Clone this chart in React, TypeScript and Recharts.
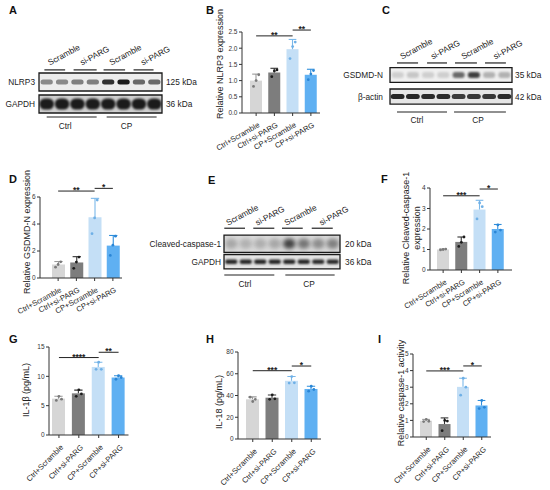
import React from 'react';
import {
  ComposedChart, ScatterChart, Bar, Scatter, XAxis, YAxis,
  ReferenceLine, ReferenceArea, ReferenceDot,
} from 'recharts';

const groups = ['Ctrl+Scramble', 'Ctrl+si-PARG', 'CP+Scramble', 'CP+si-PARG'];
const laneGroups = ['Scramble', 'si-PARG', 'Scramble', 'si-PARG'];
const conditions = ['Ctrl', 'CP'];

const barFill = ['#d6d6d6', '#7d7d7d', '#c4dff6', '#5fb0f2'];
const errStroke = ['#9a9a9a', '#333333', '#7ab8ea', '#2f8fdc'];
const dotFill = ['#7a7a7a', '#1c1c1c', '#6fb0e6', '#2a86d6'];

// B - NLRP3
const nlrp3Mean = [1.0, 1.25, 1.97, 1.18];
const nlrp3Sd = [0.2, 0.13, 0.3, 0.17];
const nlrp3Reps = [[0.82, 1.0, 1.18], [1.12, 1.3, 1.33], [1.68, 2.05, 2.19], [1.03, 1.2, 1.31]];
// D - GSDMD-N
const gsdmdMean = [1.0, 1.15, 4.5, 2.4];
const gsdmdSd = [0.22, 0.43, 1.4, 0.75];
const gsdmdReps = [[0.8, 1.0, 1.2], [0.72, 1.18, 1.55], [3.28, 4.45, 5.77], [1.67, 2.43, 3.1]];
// F - cleaved caspase-1
const cleavedMean = [1.0, 1.37, 2.95, 2.0];
const cleavedSd = [0.02, 0.24, 0.45, 0.22];
const cleavedReps = [[0.98, 1.0, 1.02], [1.15, 1.35, 1.61], [2.49, 3.27, 3.09], [1.85, 2.2, 1.95]];
// G - IL-1b
const il1bMean = [6.2, 7.1, 11.6, 9.8];
const il1bSd = [0.4, 0.55, 0.8, 0.3];
const il1bReps = [[5.9, 6.6, 6.1], [6.6, 7.7, 7.0], [11.2, 12.4, 11.2], [9.5, 10.1, 9.8]];
// H - IL-18
const il18Mean = [36.5, 38, 53.5, 46];
const il18Sd = [2.2, 2.5, 4.0, 2.5];
const il18Reps = [[38.5, 34.5, 36.5], [36.5, 40.6, 36.9], [51.4, 57.4, 51.7], [44, 48.5, 45.5]];
// I - caspase-1 activity
const casp1Mean = [0.98, 0.78, 3.02, 1.9];
const casp1Sd = [0.08, 0.37, 0.52, 0.3];
const casp1Reps = [[0.93, 1.06, 0.95], [0.38, 1.0, 0.96], [2.52, 3.54, 3.0], [1.71, 2.2, 1.79]];

// blot band intensities (0..1), lanes 1-8
const nlrp3Bands = [0.45, 0.45, 0.5, 0.5, 0.85, 0.95, 0.6, 0.6];
const gapdhBandsA = [0.95, 0.95, 0.95, 0.95, 0.95, 0.95, 0.95, 0.95];
const gsdmdBands = [0.15, 0.18, 0.15, 0.15, 0.6, 0.8, 0.28, 0.28];
const actinBands = [0.9, 0.9, 0.88, 0.88, 0.8, 0.82, 0.82, 0.88];
const cleavedBands = [0.25, 0.2, 0.22, 0.25, 0.75, 0.5, 0.38, 0.45];
const gapdhBandsE = [0.9, 0.9, 0.9, 0.9, 0.9, 0.9, 0.88, 0.88];

const FONT = '"Liberation Sans", Arial, Helvetica, sans-serif';

function makeRows(mean: number[], sd: number[], reps: number[][]) {
  return groups.map((name, i) => ({
    name, mean: mean[i], sd: sd[i], r0: reps[i][0], r1: reps[i][1], r2: reps[i][2],
  }));
}

const MeanBar = (p: any) => {
  const { x, y, width, height, payload } = p;
  const i = groups.indexOf(payload.name);
  const k = payload.mean ? height / payload.mean : 0;
  const top = y - payload.sd * k;
  const cx = x + width / 2;
  const cap = width * 0.32;
  return (
    <g>
      <rect x={x} y={y} width={width} height={height} fill={barFill[i]} />
      <line x1={cx} y1={y} x2={cx} y2={top} stroke={errStroke[i]} strokeWidth={1.1} />
      <line x1={cx - cap} y1={top} x2={cx + cap} y2={top} stroke={errStroke[i]} strokeWidth={1.1} />
    </g>
  );
};

const dotShape = (off: number) => (p: any) => {
  const { cx, cy, payload } = p;
  if (cx == null || cy == null) return <g />;
  const i = groups.indexOf(payload.name);
  return <circle cx={cx + off} cy={cy} r={1.4} fill={dotFill[i]} />;
};

const starLabel = (text: string) => (p: any) => {
  const vb = p.viewBox || {};
  return (
    <text x={vb.x + vb.width / 2} y={vb.y + 2} textAnchor="middle" fontSize={8.5} fontWeight="bold" fill="#222">
      {text}
    </text>
  );
};

type Sig = { from: number; to: number; y: number; text: string };

function BarPanel(props: any) {
  const { box, data, domain, ticks, fmt, ylabel, labelX, labelY, sigs, angle, padL = 0, padR = 0, barSize } = props;
  const cl = box.left - 60;
  const ct = box.top - 40;
  const w = box.right + 20 - cl;
  const h = box.bottom + 72 - ct;
  const AngledTick = (t: any) => (
    <g transform={`translate(${t.x + 2},${t.y + 5})`}>
      <text textAnchor="end" transform={`rotate(${angle})`} dy={4} fontSize={7.6} fill="#222">
        {t.payload.value}
      </text>
    </g>
  );
  const YLabel = () => (
    <g>
      {ylabel.map((s: string, k: number) => {
        const lx = labelX - cl + (k - (ylabel.length - 1) / 2) * 11;
        const ly = labelY - ct;
        return (
          <text key={k} x={lx} y={ly} transform={`rotate(-90, ${lx}, ${ly})`} textAnchor="middle"
            dominantBaseline="central" fontSize={9} fill="#222">{s}</text>
        );
      })}
    </g>
  );
  return (
    <div style={{ position: 'absolute', left: cl, top: ct }}>
      <ComposedChart width={w} height={h} data={data} margin={{ top: 40, right: 20, bottom: 12, left: 30 }}>
        <XAxis dataKey="name" height={60} interval={0} padding={{ left: padL, right: padR }}
          tick={<AngledTick />} tickSize={3} axisLine={{ stroke: '#333' }} tickLine={{ stroke: '#333' }} />
        <YAxis type="number" width={30} domain={domain} ticks={ticks} allowDataOverflow
          tickFormatter={fmt} tickSize={3} tickMargin={1.5} tick={{ fontSize: 6.5, fill: '#333' }}
          axisLine={{ stroke: '#333' }} tickLine={{ stroke: '#333' }} label={() => <YLabel />} />
        <Bar dataKey="mean" barSize={barSize} shape={<MeanBar />} isAnimationActive={false} />
        <Scatter dataKey="r0" shape={dotShape(-2.6)} isAnimationActive={false} />
        <Scatter dataKey="r1" shape={dotShape(0)} isAnimationActive={false} />
        <Scatter dataKey="r2" shape={dotShape(2.6)} isAnimationActive={false} />
        {sigs.map((s: Sig, k: number) => (
          <ReferenceLine key={k} ifOverflow="visible" stroke="#222" strokeWidth={1}
            segment={[{ x: groups[s.from], y: s.y }, { x: groups[s.to], y: s.y }]}
            label={starLabel(s.text)} />
        ))}
      </ComposedChart>
    </div>
  );
}

const bandShape = (w: number, h: number, blur: number) => (p: any) => {
  const { cx, cy, payload } = p;
  if (cx == null || cy == null) return <g />;
  return (
    <rect x={cx - w / 2} y={cy - h / 2} width={w} height={h} rx={h / 2} fill="#111"
      fillOpacity={payload.v} style={{ filter: `blur(${blur}px)` }} />
  );
};

function Blot(props: any) {
  const {
    left, top, width, height, x0, x1, y0, pitch, rows,
    segY, segs, labStart, labY, condY, condSegs, condX, condTextY, nameEnd, kdaStart,
  } = props;
  const laneW = (x1 - x0) / 8;
  const dom = [(top - y0) / pitch, (top + height - y0) / pitch];
  const txt = (s: string, anchor: string, rot = 0) => (p: any) => (
    <text x={p.cx} y={p.cy} textAnchor={anchor} fontSize={8.3} fill="#222"
      transform={rot ? `rotate(${rot}, ${p.cx}, ${p.cy})` : undefined}>{s}</text>
  );
  return (
    <div style={{ position: 'absolute', left, top }}>
      <ScatterChart width={width} height={height}
        margin={{ top: 0, bottom: 0, left: x0 - left, right: left + width - x1 }}>
        <XAxis type="number" dataKey="lane" domain={[0.5, 8.5]} hide allowDataOverflow />
        <YAxis type="number" dataKey="row" domain={dom} reversed hide width={0} allowDataOverflow />
        {rows.map((r: any, ri: number) => (
          <ReferenceArea key={'bg' + ri} x1={0.5} x2={8.5} y1={ri - r.half} y2={ri + r.half}
            fill={r.bg} fillOpacity={1} stroke="none" ifOverflow="visible" />
        ))}
        {rows.map((r: any, ri: number) => (
          <Scatter key={'s' + ri} data={r.bands.map((v: number, i: number) => ({ lane: i + 1, row: ri, v }))}
            shape={bandShape(laneW * r.bandW, r.bandH, r.blur)} isAnimationActive={false} />
        ))}
        {rows.map((r: any, ri: number) => (
          <ReferenceArea key={'bd' + ri} x1={0.5} x2={8.5} y1={ri - r.half} y2={ri + r.half}
            fill="none" stroke="#1a1a1a" strokeWidth={1.3} ifOverflow="visible" />
        ))}
        {rows.map((r: any, ri: number) => (
          <ReferenceDot key={'n' + ri} x={nameEnd} y={ri + 3.2 / pitch} r={1} ifOverflow="visible"
            shape={txt(r.label, 'end')} />
        ))}
        {rows.map((r: any, ri: number) => (
          <ReferenceDot key={'k' + ri} x={kdaStart} y={ri + 3.2 / pitch} r={1} ifOverflow="visible"
            shape={txt(r.kda, 'start')} />
        ))}
        {segs.map((s: number[], k: number) => (
          <ReferenceLine key={'g' + k} ifOverflow="visible" stroke="#222" strokeWidth={1.2}
            segment={[{ x: s[0], y: segY }, { x: s[1], y: segY }]} />
        ))}
        {laneGroups.map((g, k) => (
          <ReferenceDot key={'l' + k} x={labStart[k]} y={labY} r={1} ifOverflow="visible"
            shape={txt(g, 'start', -28)} />
        ))}
        {condSegs.map((s: number[], k: number) => (
          <ReferenceLine key={'c' + k} ifOverflow="visible" stroke="#222" strokeWidth={1.2}
            segment={[{ x: s[0], y: condY }, { x: s[1], y: condY }]} />
        ))}
        {conditions.map((c, k) => (
          <ReferenceDot key={'ct' + k} x={condX[k]} y={condTextY} r={1} ifOverflow="visible"
            shape={txt(c, 'middle')} />
        ))}
      </ScatterChart>
    </div>
  );
}

const Letter = ({ x, y, t }: { x: number; y: number; t: string }) => (
  <div style={{ position: 'absolute', left: x, top: y - 11, fontSize: 11, fontWeight: 'bold', lineHeight: '12px', color: '#111' }}>{t}</div>
);

export default function App() {
  const f1 = (v: number) => v.toFixed(1);
  return (
    <div style={{ position: 'absolute', left: 0, top: 0, width: 550, height: 490, background: '#fff', overflow: 'hidden', fontFamily: FONT }}>
      <Letter x={9} y={15} t="A" />
      <Letter x={206} y={15} t="B" />
      <Letter x={382} y={15} t="C" />
      <Letter x={9} y={184} t="D" />
      <Letter x={208} y={185} t="E" />
      <Letter x={381} y={184} t="F" />
      <Letter x={9} y={344} t="G" />
      <Letter x={206} y={344} t="H" />
      <Letter x={378} y={344} t="I" />

      <Blot left={0} top={30} width={200} height={110} x0={39} x1={162} y0={82} pitch={22}
        rows={[
          { label: 'NLRP3', kda: '125 kDa', bands: nlrp3Bands, bg: '#ececec', half: 0.41, bandH: 5, bandW: 0.8, blur: 0.7 },
          { label: 'GAPDH', kda: '36 kDa', bands: gapdhBandsA, bg: '#cfcfcf', half: 0.41, bandH: 11, bandW: 0.95, blur: 1.2 },
        ]}
        segY={-0.55} segs={[[0.85, 2.2], [2.75, 4.25], [4.7, 6.1], [6.65, 7.95]]}
        labStart={[1.2, 3.3, 5.2, 7.25]} labY={-0.75}
        condY={1.59} condSegs={[[1.0, 4.25], [4.9, 8.15]]} condX={[2.2, 6.2]} condTextY={2.14}
        nameEnd={0.24} kdaStart={8.76} />

      <Blot left={300} top={30} width={250} height={110} x0={390} x1={512} y0={75} pitch={21.5}
        rows={[
          { label: 'GSDMD-N', kda: '35 kDa', bands: gsdmdBands, bg: '#f0f0f0', half: 0.34, bandH: 6, bandW: 0.8, blur: 1 },
          { label: 'β-actin', kda: '42 kDa', bands: actinBands, bg: '#e6e6e6', half: 0.35, bandH: 5, bandW: 0.9, blur: 0.7 },
        ]}
        segY={-0.56} segs={[[0.96, 2.34], [2.93, 4.24], [4.76, 6.2], [6.73, 8.1]]}
        labStart={[1.29, 3.3, 5.3, 7.4]} labY={-0.72}
        condY={1.72} condSegs={[[0.96, 4.24], [4.7, 8.1]]} condX={[2.27, 6.27]} condTextY={2.23}
        nameEnd={0.04} kdaStart={8.7} />

      <Blot left={120} top={200} width={260} height={100} x0={224} x1={340} y0={243.7} pitch={18}
        rows={[
          { label: 'Cleaved-caspase-1', kda: '20 kDa', bands: cleavedBands, bg: '#dadada', half: 0.48, bandH: 10, bandW: 0.85, blur: 2 },
          { label: 'GAPDH', kda: '36 kDa', bands: gapdhBandsE, bg: '#e4e4e4', half: 0.4, bandH: 4.5, bandW: 0.85, blur: 0.8 },
        ]}
        segY={-0.86} segs={[[0.52, 1.95], [2.52, 3.97], [4.5, 5.93], [6.55, 8.0]]}
        labStart={[0.78, 2.8, 4.8, 7.2]} labY={-1.0}
        condY={1.74} condSegs={[[0.52, 3.97], [4.73, 8.13]]} condX={[1.95, 6.36]} condTextY={2.42}
        nameEnd={0.3} kdaStart={8.85} />

      <BarPanel box={{ left: 242, top: 32, right: 320, bottom: 113 }} data={makeRows(nlrp3Mean, nlrp3Sd, nlrp3Reps)}
        domain={[0, 2.5]} ticks={[0, 0.5, 1, 1.5, 2, 2.5]} fmt={f1} padL={5} barSize={12} angle={-30}
        ylabel={['Relative NLRP3 expression']} labelX={220} labelY={64}
        sigs={[{ from: 0, to: 2, y: 2.38, text: '**' }, { from: 2, to: 3, y: 2.56, text: '**' }]} />

      <BarPanel box={{ left: 40, top: 197, right: 122, bottom: 278 }} data={makeRows(gsdmdMean, gsdmdSd, gsdmdReps)}
        domain={[0, 6]} ticks={[0, 2, 4, 6]} padL={9} barSize={13} angle={-28}
        ylabel={['Relative GSDMD-N expression']} labelX={27} labelY={232}
        sigs={[{ from: 0, to: 2, y: 6.44, text: '**' }, { from: 2, to: 3, y: 6.64, text: '*' }]} />

      <BarPanel box={{ left: 430, top: 188, right: 512, bottom: 270 }} data={makeRows(cleavedMean, cleavedSd, cleavedReps)}
        domain={[0, 4]} ticks={[0, 1, 2, 3, 4]} padL={4} padR={5} barSize={12} angle={-32}
        ylabel={['Relative Cleaved-caspase-1', 'expression']} labelX={411} labelY={228}
        sigs={[{ from: 0, to: 2, y: 3.62, text: '***' }, { from: 2, to: 3, y: 3.95, text: '*' }]} />

      <BarPanel box={{ left: 49, top: 347, right: 128.5, bottom: 435 }} data={makeRows(il1bMean, il1bSd, il1bReps)}
        domain={[0, 15]} ticks={[0, 5, 10, 15]} barSize={13} angle={-45}
        ylabel={['IL-1β (pg/mL)']} labelX={26} labelY={390}
        sigs={[{ from: 0, to: 2, y: 13.2, text: '****' }, { from: 2, to: 3, y: 14.1, text: '**' }]} />

      <BarPanel box={{ left: 238, top: 352, right: 321, bottom: 439 }} data={makeRows(il18Mean, il18Sd, il18Reps)}
        domain={[0, 80]} ticks={[0, 20, 40, 60, 80]} padL={5} barSize={13} angle={-45}
        ylabel={['IL-18 (pg/mL)']} labelX={219} labelY={402}
        sigs={[{ from: 0, to: 2, y: 62.8, text: '***' }, { from: 2, to: 3, y: 67.1, text: '*' }]} />

      <BarPanel box={{ left: 413, top: 354, right: 491, bottom: 437 }} data={makeRows(casp1Mean, casp1Sd, casp1Reps)}
        domain={[0, 5]} ticks={[0, 1, 2, 3, 4, 5]} padL={4} barSize={12} angle={-45}
        ylabel={['Relative caspase-1 activity']} labelX={401} labelY={393}
        sigs={[{ from: 0, to: 2, y: 3.98, text: '***' }, { from: 2, to: 3, y: 4.28, text: '*' }]} />
    </div>
  );
}
